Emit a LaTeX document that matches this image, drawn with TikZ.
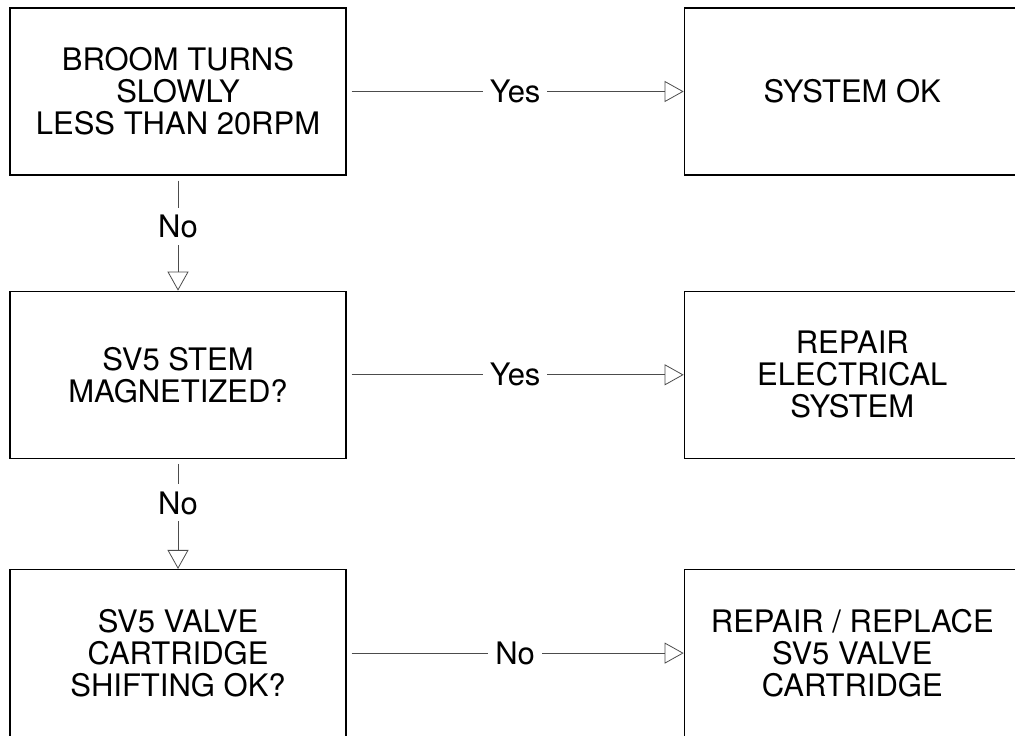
\documentclass[tikz,border=0pt]{standalone}
\usepackage{fontspec}
\setmainfont{TeX Gyre Heros}
\usetikzlibrary{arrows.meta,positioning}

\begin{document}
\begin{tikzpicture}[
  font=\fontsize{31}{32}\selectfont,
  box/.style={draw=black, line width=1.3pt, minimum width=336pt,
    minimum height=167pt, align=center, inner sep=0pt},
  flow/.style={-{Triangle[open,length=19pt,width=21pt]}, line width=0.8pt,
    draw=black!70, shorten <=5pt},
  answer/.style={fill=white, inner sep=7pt}
]
  \useasboundingbox (0,0) rectangle (1015pt,-736pt);

  \node[box] (slow) at (178pt,-91.5pt) {BROOM TURNS\\SLOWLY\\LESS THAN 20RPM};
  \node[box, right=337pt of slow] (sysok) {SYSTEM OK};
  \node[box, below=115pt of slow] (stem) {SV5 STEM\\MAGNETIZED?};
  \node[box, right=337pt of stem] (elec) {REPAIR\\ELECTRICAL\\SYSTEM};
  \node[box, below=110pt of stem] (valve) {SV5 VALVE\\CARTRIDGE\\SHIFTING OK?};
  \node[box, right=337pt of valve] (replace) {REPAIR / REPLACE\\SV5 VALVE\\CARTRIDGE};

  \draw[flow] (slow) -- node[answer] {Yes} (sysok);
  \draw[flow] (slow) -- node[answer, pos=0.44] {No} (stem);
  \draw[flow] (stem) -- node[answer] {Yes} (elec);
  \draw[flow] (stem) -- node[answer, pos=0.4] {No} (valve);
  \draw[flow] (valve) -- node[answer] {No} (replace);
\end{tikzpicture}
\end{document}
